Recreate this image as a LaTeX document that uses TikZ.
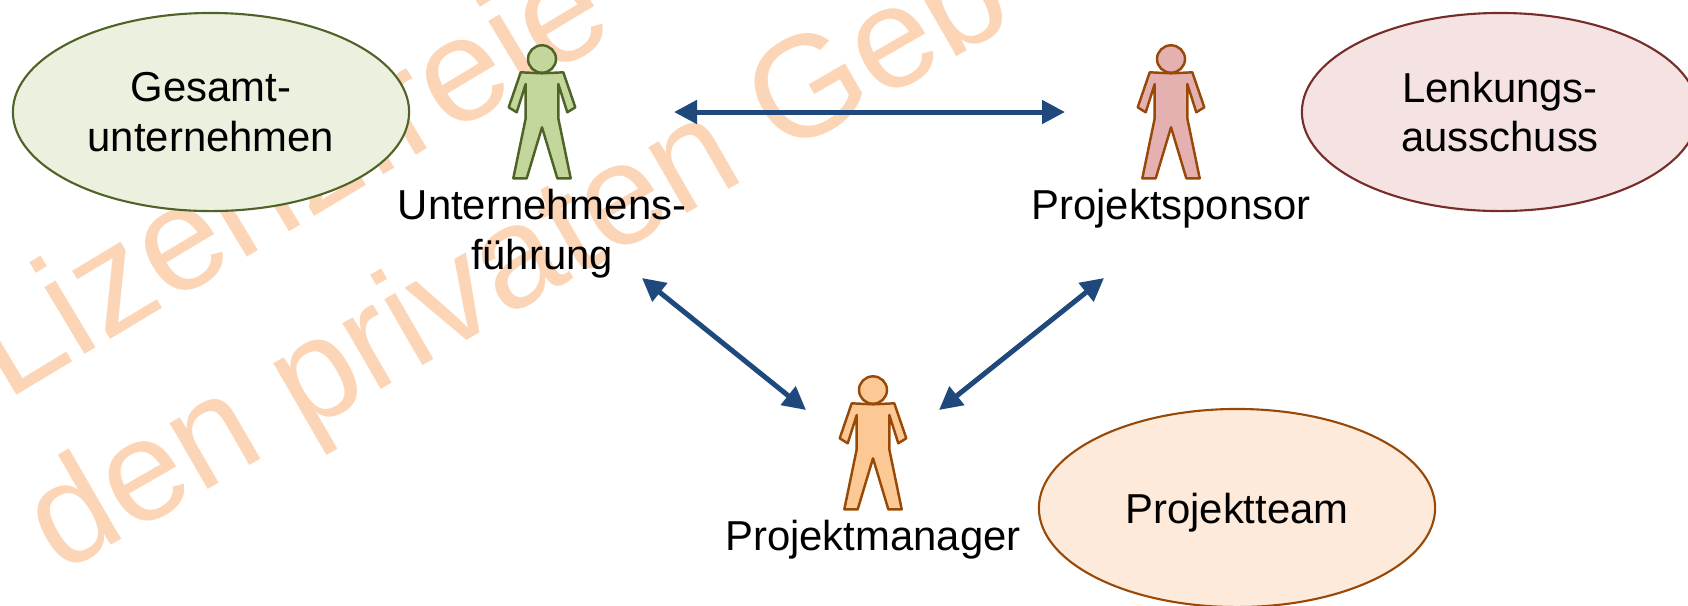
\documentclass[tikz,border=0pt]{standalone}
\usepackage{fontspec}
\setmainfont{Liberation Sans}
\usetikzlibrary{arrows.meta,positioning,shapes.geometric}
\definecolor{wmark}{HTML}{FBD5B5}
\definecolor{linkblue}{HTML}{1F497D}
\definecolor{greenline}{HTML}{4F6228}
\definecolor{greenfill}{HTML}{C3D69B}
\definecolor{greenpale}{HTML}{EBF1DE}
\definecolor{redline}{HTML}{772C2A}
\definecolor{redfill}{HTML}{E4B0B0}
\definecolor{redpale}{HTML}{F5E3E3}
\definecolor{brownline}{HTML}{984807}
\definecolor{orangefill}{HTML}{FCC893}
\definecolor{orangepale}{HTML}{FDEADB}
\tikzset{
    person/.pic={
        \path[pic actions, line width=0.7pt] (0,-53) ellipse [x radius=14, y radius=13.7];
        \path[pic actions, line width=0.7pt, line join=round]
            (-21.3,-39.7) -- (0,-38.7) -- (21.3,-39.7) -- (33.3,-4.7) -- (25.3,0.3) -- (16.3,-28)
            -- (16.3,6.3) -- (28.7,66.3) -- (15.3,66.3) -- (0,15.3) -- (-15.3,66.3) -- (-28.7,66.3)
            -- (-16.3,6.3) -- (-16.3,-28) -- (-25.3,0.3) -- (-33.3,-4.7) -- cycle;
    }
}
\begin{document}
\begin{tikzpicture}[x=0.01cm, y=-0.01cm,
    every node/.style={font=\fontsize{11.9}{14.2}\selectfont, align=center, inner sep=0pt},
    wmarktext/.style={anchor=base west, text=wmark, font=\fontsize{#1}{42}\selectfont},
    group/.style={ellipse, minimum width=3.96cm, minimum height=1.98cm, line width=0.6pt},
    figbox/.style={minimum width=0.66cm, minimum height=1.34cm},
    link/.style={{Triangle[length=0.23cm, width=0.23cm]}-{Triangle[length=0.23cm, width=0.23cm]}, linkblue, line width=0.05cm},
    figgreen/.style={draw=greenline, fill=greenfill},
    figred/.style={draw=brownline, fill=redfill},
    figorange/.style={draw=brownline, fill=orangefill}]

    \useasboundingbox (0,0) rectangle (1688,605);
    \clip (0,0) rectangle (1688,605);

    \node[wmarktext=42, rotate=31] (wmarkA) at (6,402)  {Lizenzfreie V};
    \node[wmarktext=41, rotate=30] (wmarkB) at (60,575) {den privaten Geb};

    \node[group, draw=greenline, fill=greenpale]   (gesamt)  at (211,112)  {Gesamt-\\unternehmen};
    \node[group, draw=redline,   fill=redpale]     (lenkung) at (1500,112) {Lenkungs-\\ausschuss};
    \node[group, draw=brownline, fill=orangepale, text depth=0pt] (team) at (1237,508) {Projektteam};

    \node[figbox] (fuehrung) at (542,112) {};
    \node[figbox] (sponsor)  at (1171,112) {};
    \node[figbox] (manager)  at (873,443) {};

    \pic[figgreen]  at (fuehrung) {person};
    \pic[figred]    at (sponsor)  {person};
    \pic[figorange] at (manager)  {person};

    \node[below=0.09cm of fuehrung] (fuehrunglabel) {Unternehmens-\\führung};
    \node[below=0.09cm of sponsor]  (sponsorlabel)  {Projektsponsor};
    \node[below=0.09cm of manager]  (managerlabel)  {Projektmanager};

    \draw[link] ([shift={(132,0)}]fuehrung.center) -- ([shift={(-106,0)}]sponsor.center);
    \draw[link] ([shift={(100,166)}]fuehrung.center) -- ([shift={(-67,-33)}]manager.center);
    \draw[link] ([shift={(-67,166)}]sponsor.center) -- ([shift={(66,-33)}]manager.center);
\end{tikzpicture}
\end{document}
